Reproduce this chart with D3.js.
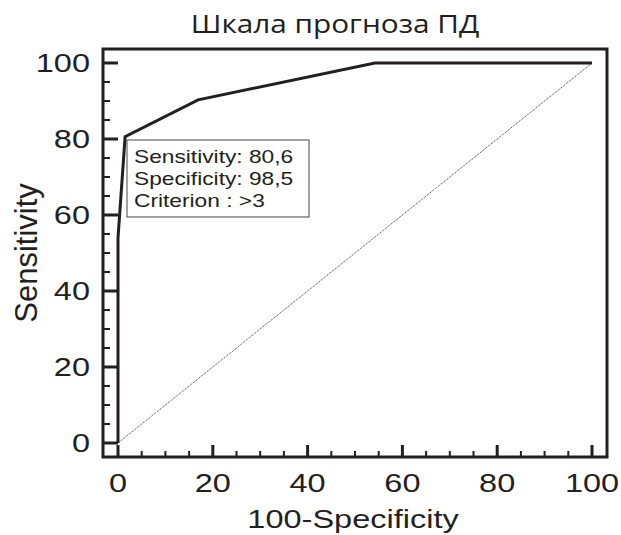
<!DOCTYPE html>
<html>
<head>
<meta charset="utf-8">
<script src="https://cdn.jsdelivr.net/npm/d3@7"></script>
<style>
  body { margin: 0; background: #fff; }
  text { fill: #231f20; }
  .axText { font-family: "Liberation Sans", Arial, sans-serif; font-size: 25px; }
  .keyText { font-family: "Liberation Sans", Arial, sans-serif; font-size: 17.5px; }
  .titleText { font-family: "Open Sans", "Noto Sans", sans-serif; font-size: 25px; }
</style>
</head>
<body>
<div id="chart"></div>
<script>
/* data */
var titleText = "Шкала прогноза ПД"
var xLabel = "100-Specificity"
var yLabel = "Sensitivity"
var rocX = [0, 0, 1.5, 16.9, 54.2, 100]
var rocY = [0, 54, 80.6, 90.3, 100, 100]
var majorTicks = [0, 20, 40, 60, 80, 100]
var minorTicks = [5, 10, 15, 25, 30, 35, 45, 50, 55, 65, 70, 75, 85, 90, 95]
var keyLines = ["Sensitivity: 80,6", "Specificity: 98,5", "Criterion : >3"]

var layout = {
  width: 621, height: 535,
  x0: 118, x1: 592, y0: 443, y1: 63,
  frameL: 103, frameR: 607, frameT: 49, frameB: 457,
  stretch: 1.3,
  titleStretch: 1.19
}

var svg = d3.select("#chart")
  .append("svg")
  .attr("width", layout.width)
  .attr("height", layout.height)

var xScale = d3.scaleLinear().domain([0, 100]).range([layout.x0, layout.x1])
var yScale = d3.scaleLinear().domain([0, 100]).range([layout.y0, layout.y1])

/* frame */
svg.append("rect")
  .attr("x", layout.frameL)
  .attr("y", layout.frameT)
  .attr("width", layout.frameR - layout.frameL)
  .attr("height", layout.frameB - layout.frameT)
  .attr("fill", "none")
  .attr("stroke", "#231f20")
  .attr("stroke-width", 3)

/* ticks */
majorTicks.forEach(function(t) {
  svg.append("line")
    .attr("x1", layout.frameL).attr("x2", layout.x0)
    .attr("y1", yScale(t)).attr("y2", yScale(t))
    .attr("stroke", "#231f20").attr("stroke-width", 3)
  svg.append("line")
    .attr("x1", xScale(t)).attr("x2", xScale(t))
    .attr("y1", layout.frameB).attr("y2", layout.frameB - 12)
    .attr("stroke", "#231f20").attr("stroke-width", 3)
  svg.append("text")
    .attr("class", "axText")
    .attr("text-anchor", "end")
    .attr("transform", "translate(90," + (yScale(t) + 9) + ") scale(" + layout.stretch + ",1)")
    .text(t)
  svg.append("text")
    .attr("class", "axText")
    .attr("text-anchor", "middle")
    .attr("transform", "translate(" + xScale(t) + ",492) scale(" + layout.stretch + ",1)")
    .text(t)
})
minorTicks.forEach(function(t) {
  svg.append("line")
    .attr("x1", layout.frameL).attr("x2", layout.frameL + 7)
    .attr("y1", yScale(t)).attr("y2", yScale(t))
    .attr("stroke", "#231f20").attr("stroke-width", 2)
  svg.append("line")
    .attr("x1", xScale(t)).attr("x2", xScale(t))
    .attr("y1", layout.frameB).attr("y2", layout.frameB - 6)
    .attr("stroke", "#231f20").attr("stroke-width", 2)
})

/* diagonal reference */
svg.append("line")
  .attr("x1", xScale(0)).attr("y1", yScale(0))
  .attr("x2", xScale(100)).attr("y2", yScale(100))
  .attr("stroke", "#333")
  .attr("stroke-width", 1)
  .attr("stroke-dasharray", "1,1")

/* roc curve */
var rocLine = d3.line()
  .x(function(d, i) { return xScale(rocX[i]) })
  .y(function(d, i) { return yScale(rocY[i]) })
svg.append("path")
  .attr("d", rocLine(rocX))
  .attr("fill", "none")
  .attr("stroke", "#231f20")
  .attr("stroke-width", 3)
  .attr("stroke-linejoin", "miter")

/* key box */
svg.append("rect")
  .attr("x", 127).attr("y", 140)
  .attr("width", 182).attr("height", 77)
  .attr("fill", "#fff")
  .attr("stroke", "#444")
  .attr("stroke-width", 1)
keyLines.forEach(function(s, i) {
  svg.append("text")
    .attr("class", "keyText")
    .attr("transform", "translate(134," + (163 + i * 22) + ") scale(" + layout.stretch + ",1)")
    .text(s)
})

/* titles */
svg.append("text")
  .attr("class", "titleText")
  .attr("text-anchor", "middle")
  .attr("transform", "translate(335,33) scale(" + layout.titleStretch + ",1)")
  .text(titleText)
svg.append("text")
  .attr("class", "axText")
  .attr("text-anchor", "middle")
  .attr("transform", "translate(353,528) scale(" + layout.stretch + ",1)")
  .text(xLabel)
svg.append("text")
  .attr("class", "axText")
  .attr("text-anchor", "middle")
  .style("font-size", "31px")
  .attr("transform", "translate(37," + yScale(50) + ") rotate(-90)")
  .text(yLabel)
</script>
</body>
</html>
